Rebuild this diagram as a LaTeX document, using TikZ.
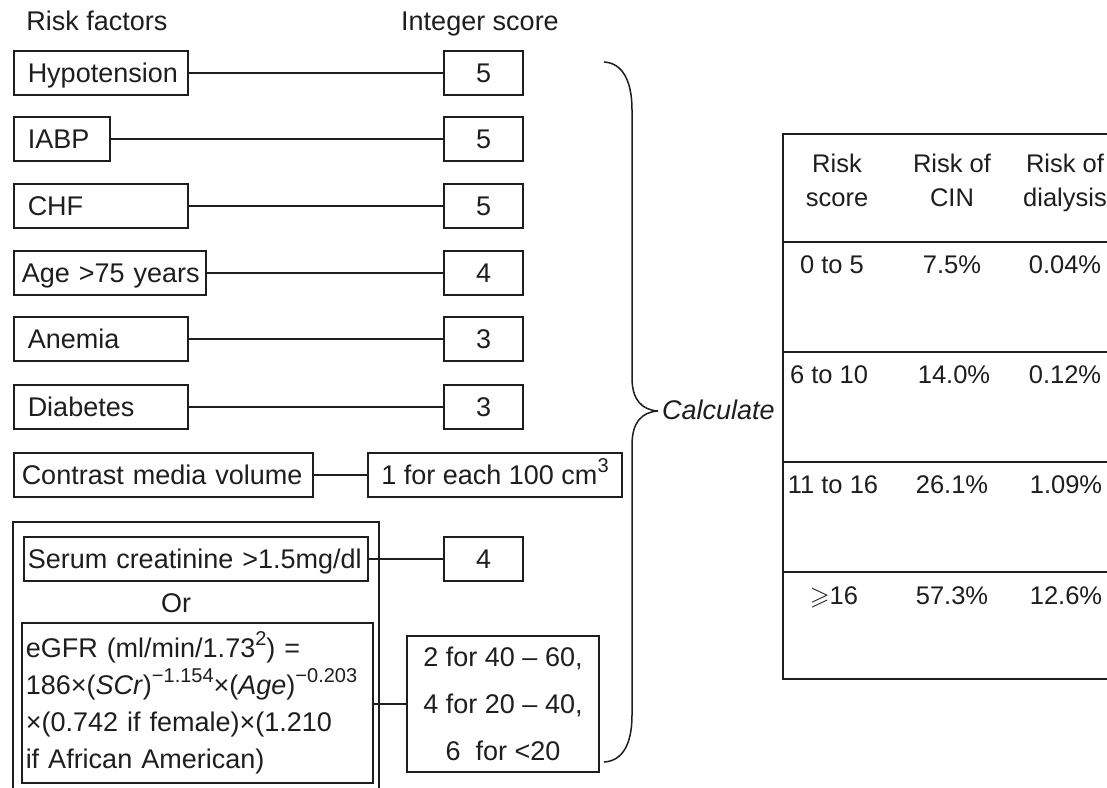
\documentclass[tikz,border=0pt]{standalone}
\usepackage{fontspec}
\setmainfont{Liberation Sans}
\usepackage{amssymb}
\definecolor{ink}{HTML}{1E1E1E}
\newcommand\fsz{\fontsize{27}{32}\selectfont}
\newcommand\tsz{\fontsize{25.5}{30}\selectfont}
\newcommand\supx[1]{\raisebox{0.42em}{\fontsize{20}{20}\selectfont #1}}
\begin{document}
\begin{tikzpicture}[x=1pt,y=-1pt,
  every node/.style={font=\fsz, text=ink},
  box/.style={draw=ink, line width=1.5pt},
  lbox/.style={box, anchor=west, inner xsep=0pt, inner ysep=0pt, text width=#1, align=left, minimum height=44pt, text height=19pt, text depth=1pt},
  sbox/.style={box, inner sep=0pt, minimum width=79pt, minimum height=44pt, text height=19pt, text depth=1pt},
  conn/.style={draw=ink, line width=1.4pt},
  cell/.style={inner sep=0pt, text height=19pt, text depth=1pt},
  tcell/.style={cell, font=\tsz}
]
\useasboundingbox (0,0) rectangle (1107,787);
\clip (0,0) rectangle (1107,787);
\fill[white] (0,0) rectangle (1107,787);

% headers
\node[cell] (hrf) at (97,21) {Risk factors};
\node[cell] (hsc) at (480,21) {Integer score};

% risk factor boxes
\node[lbox=174pt] (hyp) at (13,73) {\hspace*{14pt}Hypotension};
\node[lbox=96pt] (iabp) at (13,139) {\hspace*{14pt}IABP};
\node[lbox=174pt] (chf) at (13,206) {\hspace*{14pt}CHF};
\node[lbox=192pt] (age) at (13,273) {\hspace*{8pt}Age >75 years};
\node[lbox=174pt] (ane) at (13,339) {\hspace*{14pt}Anemia};
\node[lbox=174pt] (dia) at (13,407) {\hspace*{14pt}Diabetes};
\node[lbox=299pt] (con) at (13,475) {\hspace*{8pt}Contrast media volume};

% outer group box
\draw[box] (13,800) -- (13,522) -- (379,522) -- (379,800);
\node[lbox=344pt] (ser) at (23,559) {\hspace*{4pt}Serum creatinine >1.5mg/dl};
\node[cell] (or) at (176,603) {Or};
\node[box, anchor=north west, inner xsep=4pt, inner ysep=0pt, text width=343pt,
      minimum height=160pt, align=left, font=\fontsize{27}{37}\selectfont] (egfr) at (21,622)
  {eGFR (ml/min/1.73\supx{2}) =\\
   186×(\textit{SCr})\supx{−1.154}×(\textit{Age})\supx{−0.203}\\
   ×(0.742 if female)×(1.210\\
   if African American)};

% score boxes
\node[sbox] (s1) at (483.5,73) {5};
\node[sbox] (s2) at (483.5,139) {5};
\node[sbox] (s3) at (483.5,206) {5};
\node[sbox] (s4) at (483.5,273) {4};
\node[sbox] (s5) at (483.5,339) {3};
\node[sbox] (s6) at (483.5,407) {3};
\node[sbox, minimum width=254pt] (s7) at (495,475) {1 for each 100 cm\supx{3}};
\node[sbox] (s8) at (483.5,559) {4};
\node[box, inner sep=0pt, minimum width=192pt, minimum height=136pt, align=center,
      font=\fontsize{27}{47}\selectfont] (s9) at (503,704)
  {2 for 40 – 60,\\4 for 20 – 40,\\6\ \ for <20};

% connectors
\draw[conn] (hyp.east) -- (s1.west);
\draw[conn] (iabp.east) -- (s2.west);
\draw[conn] (chf.east) -- (s3.west);
\draw[conn] (age.east) -- (s4.west);
\draw[conn] (ane.east) -- (s5.west);
\draw[conn] (dia.east) -- (s6.west);
\draw[conn] (con.east) -- (s7.west);
\draw[conn] (ser.east) -- (s8.west);
\draw[conn] (egfr.east |- s9.west) -- (s9.west);

% brace
\draw[box] (604,62) .. controls (622,63) and (632,80) .. (632,110)
  -- (632,378) .. controls (632,400) and (642,410) .. (658,411)
  .. controls (642,412) and (632,422) .. (632,445)
  -- (632,715) .. controls (632,745) and (622,761) .. (604,762);
\node[cell, anchor=west] (calc) at (662,410) {\itshape Calculate};

% table
\draw[box] (783,134) rectangle (1130,679);
\foreach \yy in {242,352,462,572} \draw[box] (783,\yy) -- (1130,\yy);
\node[tcell] (h1a) at (837,163) {Risk};
\node[tcell] (h1b) at (837,197) {score};
\node[tcell] (h2a) at (952,163) {Risk of};
\node[tcell] (h2b) at (952,197) {CIN};
\node[tcell] (h3a) at (1065,163) {Risk of};
\node[tcell] (h3b) at (1065,197) {dialysis};

\node[tcell] (r1a) at (832,264) {0 to 5};
\node[tcell] (r1b) at (952,264) {7.5\%};
\node[tcell] (r1c) at (1065,264) {0.04\%};
\node[tcell] (r2a) at (829,374) {6 to 10};
\node[tcell] (r2b) at (954,374) {14.0\%};
\node[tcell] (r2c) at (1065,374) {0.12\%};
\node[tcell] (r3a) at (833,484) {11 to 16};
\node[tcell] (r3b) at (952,484) {26.1\%};
\node[tcell] (r3c) at (1066,484) {1.09\%};
\node[tcell] (r4a) at (834,595) {$\geqslant$16};
\node[tcell] (r4b) at (952,595) {57.3\%};
\node[tcell] (r4c) at (1066,595) {12.6\%};
\end{tikzpicture}
\end{document}
